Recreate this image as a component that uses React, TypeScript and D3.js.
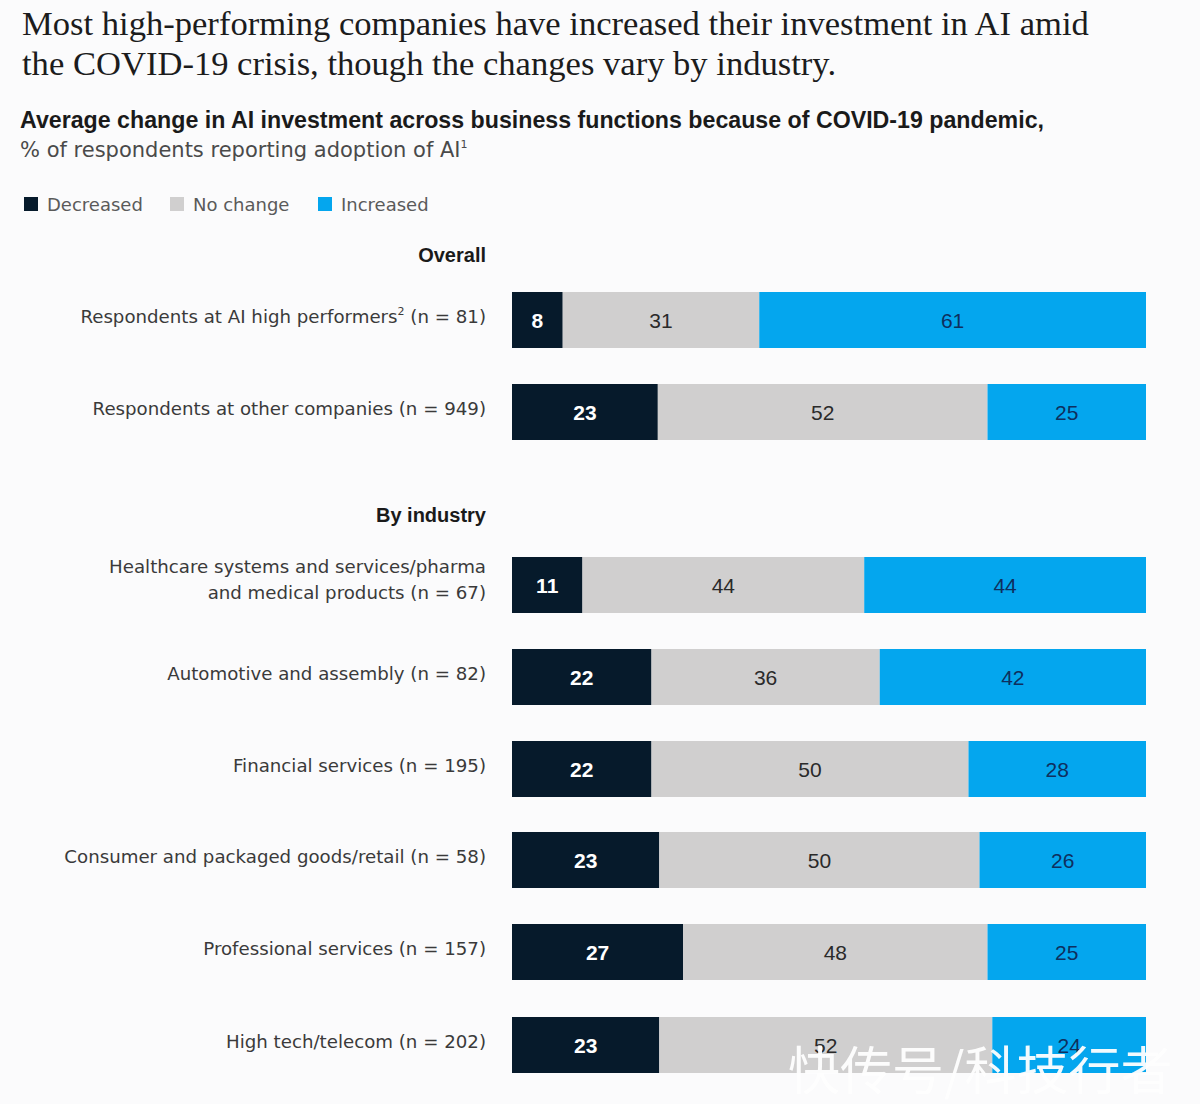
import React from "react";
import * as d3 from "d3";

const categories = [
  "Respondents at AI high performers",
  "Respondents at other companies",
  "Healthcare systems and services/pharma|and medical products",
  "Automotive and assembly",
  "Financial services",
  "Consumer and packaged goods/retail",
  "Professional services",
  "High tech/telecom",
];
const sampleSizes = [81, 949, 67, 82, 195, 58, 157, 202];
const decreased = [8, 23, 11, 22, 22, 23, 27, 23];
const noChange = [31, 52, 44, 36, 50, 50, 48, 52];
const increased = [61, 25, 44, 42, 28, 26, 25, 24];
const seriesNames = ["Decreased", "No change", "Increased"];

const W = 1200;
const H = 1104;
const colors = ["#061a2b", "#d0cfcf", "#04a6ee"];
const valueColors = ["#ffffff", "#2a2a2a", "#0e2f5e"];
const sans = "'DejaVu Sans', 'Liberation Sans', Arial, sans-serif";
const arial = "'Liberation Sans', Arial, sans-serif";

export default function App() {
  const x = d3.scaleLinear().domain([0, 1]).range([512, 1146]);
  const rowTops = [292, 384, 557, 649, 741, 832, 924, 1017];
  const barH = 56;
  const y = d3.scaleOrdinal<number, number>().domain(d3.range(categories.length)).range(rowTops);

  const rows = categories.map((c, i) => {
    const vals = [decreased[i], noChange[i], increased[i]];
    const total = d3.sum(vals);
    let acc = 0;
    const segs = vals.map((v, k) => {
      const s = { k, v, x0: acc / total, x1: (acc + v) / total };
      acc += v;
      return s;
    });
    return { c, i, segs };
  });

  return (
    <svg width={W} height={H} style={{ position: "absolute", left: 0, top: 0 }}>
      <rect width={W} height={H} fill="#fbfbfc" />
      <text x={22} y={35} fontFamily="'Liberation Serif', 'Times New Roman', serif" fontSize={34.6} fill="#1c1c1c">
        Most high-performing companies have increased their investment in AI amid
      </text>
      <text x={22} y={75} fontFamily="'Liberation Serif', 'Times New Roman', serif" fontSize={34.6} fill="#1c1c1c">
        the COVID-19 crisis, though the changes vary by industry.
      </text>
      <text x={20} y={128} fontFamily={arial} fontWeight="bold" fontSize={23.2} fill="#1a1a1a">
        Average change in AI investment across business functions because of COVID-19 pandemic,
      </text>
      <text x={20} y={157} fontFamily={sans} fontSize={21} fill="#4a4a4a">
        % of respondents reporting adoption of AI<tspan fontSize={11} dy={-9}>1</tspan>
      </text>

      {seriesNames.map((s, k) => {
        const lx = [24, 170, 318][k];
        return (
          <g key={s}>
            <rect x={lx} y={197} width={14} height={14} fill={colors[k]} />
            <text x={lx + 23} y={211} fontFamily={sans} fontSize={18} fill="#5a5a5a">
              {s}
            </text>
          </g>
        );
      })}

      <text x={486} y={262} textAnchor="end" fontFamily={arial} fontWeight="bold" fontSize={20} fill="#1a1a1a">
        Overall
      </text>
      <text x={486} y={522} textAnchor="end" fontFamily={arial} fontWeight="bold" fontSize={20} fill="#1a1a1a">
        By industry
      </text>

      {rows.map(({ c, i, segs }) => {
        const top = y(i) as number;
        const lines = c.split("|");
        const cy = top + barH / 2;
        return (
          <g key={c}>
            {lines.map((ln, li) => {
              const last = li === lines.length - 1;
              const yy = cy + 3 + (li - (lines.length - 1) / 2) * 26 - (lines.length > 1 ? 2 : 0);
              return (
                <text key={li} x={486} y={yy} textAnchor="end" fontFamily={sans} fontSize={18.2} fill="#3a3a3a">
                  {ln}
                  {last && i === 0 ? (
                    <>
                      <tspan fontSize={11} dy={-8}>2</tspan>
                      <tspan dy={8}>{` (n = ${sampleSizes[i]})`}</tspan>
                    </>
                  ) : last ? (
                    ` (n = ${sampleSizes[i]})`
                  ) : null}
                </text>
              );
            })}
            {segs.map((s) => (
              <g key={s.k}>
                <rect x={x(s.x0)} y={top} width={x(s.x1) - x(s.x0)} height={barH} fill={colors[s.k]} />
                <text
                  x={(x(s.x0) + x(s.x1)) / 2}
                  y={cy + 8}
                  textAnchor="middle"
                  fontFamily={arial}
                  fontSize={21}
                  fontWeight={s.k === 0 ? "bold" : "normal"}
                  fill={valueColors[s.k]}
                >
                  {s.v}
                </text>
              </g>
            ))}
          </g>
        );
      })}

      <text x={788} y={1090} fontFamily="'Noto Sans CJK SC', sans-serif" fontSize={52} fill="#ffffff" opacity={0.95}>
        快传号/科技行者
      </text>
    </svg>
  );
}
